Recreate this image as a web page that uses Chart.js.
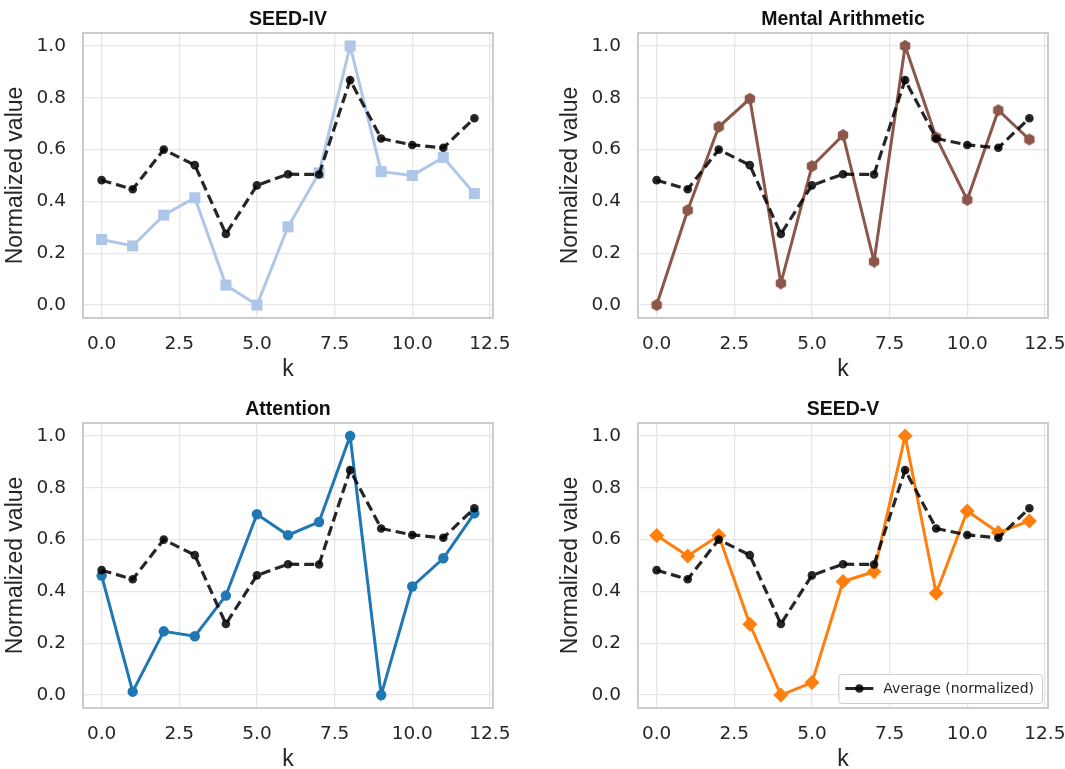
<!DOCTYPE html>
<html>
<head>
<meta charset="utf-8">
<script src="https://cdn.jsdelivr.net/npm/chart.js@4.4.0/dist/chart.umd.min.js"></script>
<style>
    html, body { margin: 0; padding: 0; background: #fff; overflow: hidden; }
    body { width: 1065px; height: 769px; position: relative; }
    .panel { position: absolute; }
</style>
</head>
<body>
<div class="panel" style="left:0px;top:0px"><canvas id="c0" width="517" height="385"></canvas></div>
<div class="panel" style="left:555px;top:0px"><canvas id="c1" width="517" height="385"></canvas></div>
<div class="panel" style="left:0px;top:390px"><canvas id="c2" width="517" height="385"></canvas></div>
<div class="panel" style="left:555px;top:390px"><canvas id="c3" width="517" height="385"></canvas></div>
<script>
// Data
const kValues = [0, 1, 2, 3, 4, 5, 6, 7, 8, 9, 10, 11, 12];
const xTicks = [0, 2.5, 5, 7.5, 10, 12.5];
const yTicks = [0, 0.2, 0.4, 0.6, 0.8, 1.0];

const avgValues = [0.482, 0.447, 0.600, 0.540, 0.274, 0.462, 0.505, 0.504, 0.868, 0.643, 0.618, 0.607, 0.721];
const seedIvValues = [0.253, 0.228, 0.347, 0.414, 0.077, 0.0, 0.302, 0.510, 1.0, 0.515, 0.500, 0.570, 0.430];
const mentalValues = [0.0, 0.366, 0.688, 0.796, 0.084, 0.536, 0.656, 0.168, 1.0, 0.647, 0.406, 0.752, 0.639];
const attentionValues = [0.461, 0.013, 0.246, 0.227, 0.384, 0.698, 0.617, 0.668, 1.0, 0.0, 0.419, 0.528, 0.701];
const seedVValues = [0.616, 0.537, 0.616, 0.273, 0.0, 0.048, 0.438, 0.476, 1.0, 0.393, 0.710, 0.627, 0.672];

const panelTitles = ["SEED-IV", "Mental Arithmetic", "Attention", "SEED-V"];
const avgLabel = "Average (normalized)";

const TEXT = "#262626";
const GRID = "#e6e6e6";
const AVG_COLOR = "rgba(0,0,0,0.85)";
const tickFont = { family: "DejaVu Sans", size: 18.5 };
const labelFont = { family: "Liberation Sans", size: 23 };

// hexagon marker (matplotlib "h") as a small canvas
function hexMarker(r, color) {
    const c = document.createElement("canvas");
    const s = Math.ceil(r * 2 + 2);
    c.width = s; c.height = s;
    const ctx = c.getContext("2d");
    ctx.beginPath();
    for (let i = 0; i < 6; i++) {
        const a = -Math.PI / 2 + i * Math.PI / 3;
        const px = s / 2 + r * Math.cos(a);
        const py = s / 2 + r * Math.sin(a);
        if (i === 0) ctx.moveTo(px, py); else ctx.lineTo(px, py);
    }
    ctx.closePath();
    ctx.fillStyle = color;
    ctx.fill();
    return c;
}

function toPoints(vals) {
    return kValues.map((k, i) => ({ x: k, y: vals[i] }));
}

// grey frame round the axes
const framePlugin = {
    id: "frame",
    beforeDatasetsDraw(chart) {
        const { ctx, chartArea: a } = chart;
        ctx.save();
        ctx.strokeStyle = "#cccccc";
        ctx.lineWidth = 2;
        ctx.strokeRect(a.left, a.top, a.right - a.left, a.bottom - a.top);
        ctx.restore();
    }
};

// matplotlib-like legend in the lower right corner
const avgLegendPlugin = {
    id: "avgLegend",
    afterDraw(chart, args, opts) {
        if (!opts.show) return;
        const { ctx, chartArea: a } = chart;
        ctx.save();
        ctx.font = "14px 'DejaVu Sans'";
        const tw = ctx.measureText(avgLabel).width;
        const w = tw + 53, h = 29;
        const x0 = a.right - 6 - w, y0 = a.bottom - 5 - h;
        ctx.fillStyle = "rgba(255,255,255,0.85)";
        ctx.strokeStyle = "#cccccc";
        ctx.lineWidth = 1;
        ctx.beginPath();
        ctx.roundRect(x0 + 0.5, y0 + 0.5, w, h, 3);
        ctx.fill();
        ctx.stroke();
        const cy = y0 + h / 2;
        ctx.strokeStyle = AVG_COLOR;
        ctx.lineWidth = 3;
        ctx.beginPath();
        ctx.moveTo(x0 + 7, cy);
        ctx.lineTo(x0 + 35, cy);
        ctx.stroke();
        ctx.fillStyle = AVG_COLOR;
        ctx.beginPath();
        ctx.arc(x0 + 21, cy, 4.3, 0, Math.PI * 2);
        ctx.fill();
        ctx.fillStyle = TEXT;
        ctx.textBaseline = "middle";
        ctx.fillText(avgLabel, x0 + 45, cy + 1);
        ctx.restore();
    }
};

function makePanel(id, title, values, color, pointStyle, pointRadius, showLegend) {
    const ctx = document.getElementById(id).getContext("2d");
    return new Chart(ctx, {
        type: "line",
        data: {
            datasets: [
                {
                    label: avgLabel,
                    data: toPoints(avgValues),
                    borderColor: AVG_COLOR,
                    backgroundColor: AVG_COLOR,
                    borderWidth: 3.2,
                    borderDash: [10, 5],
                    pointRadius: 4.3,
                    pointBorderWidth: 0,
                    tension: 0
                },
                {
                    label: title,
                    data: toPoints(values),
                    borderColor: color,
                    backgroundColor: color,
                    borderWidth: 3,
                    pointStyle: pointStyle,
                    pointRadius: pointRadius,
                    pointBorderWidth: 0,
                    tension: 0
                }
            ]
        },
        options: {
            responsive: false,
            animation: false,
            layout: { padding: { left: 0, right: 24, top: 0, bottom: 0 } },
            plugins: {
                legend: { display: false },
                tooltip: { enabled: false },
                title: {
                    display: true,
                    text: title,
                    fullSize: false,
                    color: "#111111",
                    font: { family: "Liberation Sans", size: 19.5, weight: "bold" },
                    padding: { top: 7.5, bottom: 2.1 }
                },
                avgLegend: { show: showLegend }
            },
            scales: {
                x: {
                    type: "linear",
                    min: -0.6,
                    max: 12.6,
                    afterBuildTicks: (s) => { s.ticks = xTicks.map(v => ({ value: v })); },
                    afterFit: (s) => { s.height = 67; s.paddingLeft = 0; s.paddingRight = 0; },
                    grid: { color: GRID, lineWidth: 1.3, drawTicks: false },
                    border: { display: false },
                    ticks: { padding: 15.5, color: TEXT, font: tickFont, maxRotation: 0, callback: (v) => v.toFixed(1) },
                    title: { display: true, text: "k", color: TEXT, font: labelFont, padding: { top: 0, bottom: 1.5 } }
                },
                y: {
                    type: "linear",
                    min: -0.05,
                    max: 1.05,
                    afterBuildTicks: (s) => { s.ticks = yTicks.map(v => ({ value: v })); },
                    afterFit: (s) => { s.width = 83; s.paddingTop = 0; s.paddingBottom = 0; },
                    grid: { color: GRID, lineWidth: 1.3, drawTicks: false },
                    border: { display: false },
                    ticks: { padding: 17, color: TEXT, font: tickFont, callback: (v) => v.toFixed(1) },
                    title: { display: true, text: "Normalized value", color: TEXT, font: labelFont, padding: { top: 2, bottom: 0 } }
                }
            }
        },
        plugins: [framePlugin, avgLegendPlugin]
    });
}

makePanel("c0", panelTitles[0], seedIvValues, "#aec7e8", "rect", 7.8, false);
makePanel("c1", panelTitles[1], mentalValues, "#8c564b", hexMarker(6, "#8c564b"), 6, false);
makePanel("c2", panelTitles[2], attentionValues, "#1f77b4", "circle", 5.2, false);
makePanel("c3", panelTitles[3], seedVValues, "#ff7f0e", "rectRot", 7.5, true);
</script>
</body>
</html>
